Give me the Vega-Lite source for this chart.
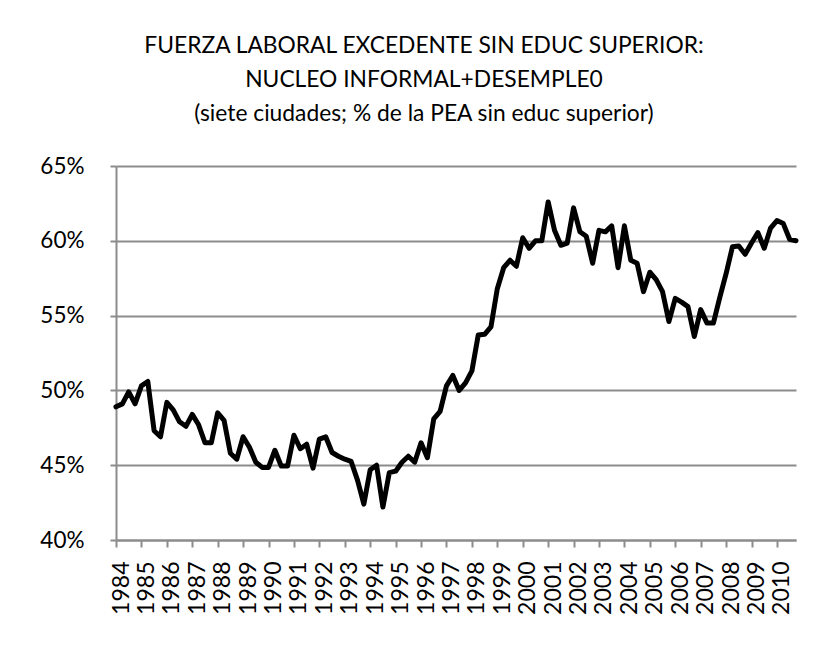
{
  "$schema": "https://vega.github.io/schema/vega-lite/v6.json",
  "width": 680,
  "height": 374,
  "autosize": {"type": "none"},
  "padding": {"left": 116, "top": 166, "right": 31, "bottom": 117},
  "background": "white",
  "title": {
    "text": ["FUERZA LABORAL EXCEDENTE  SIN EDUC SUPERIOR:", "NUCLEO INFORMAL+DESEMPLE0", "(siete ciudades; % de la PEA sin educ superior)"],
    "font": "Lato",
    "fontSize": 22.8,
    "fontWeight": "normal",
    "color": "black",
    "lineHeight": 34,
    "anchor": "middle",
    "dx": -32,
    "offset": 29
  },
  "data": {
    "values": [
      {"t": 1984.0, "v": 0.489}, {"t": 1984.25, "v": 0.491}, {"t": 1984.5, "v": 0.499}, {"t": 1984.75, "v": 0.491},
      {"t": 1985.0, "v": 0.503}, {"t": 1985.25, "v": 0.506}, {"t": 1985.5, "v": 0.473}, {"t": 1985.75, "v": 0.469},
      {"t": 1986.0, "v": 0.492}, {"t": 1986.25, "v": 0.487}, {"t": 1986.5, "v": 0.479}, {"t": 1986.75, "v": 0.476},
      {"t": 1987.0, "v": 0.484}, {"t": 1987.25, "v": 0.477}, {"t": 1987.5, "v": 0.465}, {"t": 1987.75, "v": 0.465},
      {"t": 1988.0, "v": 0.485}, {"t": 1988.25, "v": 0.480}, {"t": 1988.5, "v": 0.458}, {"t": 1988.75, "v": 0.454},
      {"t": 1989.0, "v": 0.469}, {"t": 1989.25, "v": 0.462}, {"t": 1989.5, "v": 0.452}, {"t": 1989.75, "v": 0.4485},
      {"t": 1990.0, "v": 0.4485}, {"t": 1990.25, "v": 0.460}, {"t": 1990.5, "v": 0.4495}, {"t": 1990.75, "v": 0.4495},
      {"t": 1991.0, "v": 0.470}, {"t": 1991.25, "v": 0.461}, {"t": 1991.5, "v": 0.464}, {"t": 1991.75, "v": 0.448},
      {"t": 1992.0, "v": 0.4675}, {"t": 1992.25, "v": 0.469}, {"t": 1992.5, "v": 0.4585}, {"t": 1992.75, "v": 0.456},
      {"t": 1993.0, "v": 0.454}, {"t": 1993.25, "v": 0.4525}, {"t": 1993.5, "v": 0.440}, {"t": 1993.75, "v": 0.424},
      {"t": 1994.0, "v": 0.447}, {"t": 1994.25, "v": 0.450}, {"t": 1994.5, "v": 0.422}, {"t": 1994.75, "v": 0.445},
      {"t": 1995.0, "v": 0.446}, {"t": 1995.25, "v": 0.452}, {"t": 1995.5, "v": 0.456}, {"t": 1995.75, "v": 0.452},
      {"t": 1996.0, "v": 0.465}, {"t": 1996.25, "v": 0.455}, {"t": 1996.5, "v": 0.481}, {"t": 1996.75, "v": 0.486},
      {"t": 1997.0, "v": 0.503}, {"t": 1997.25, "v": 0.510}, {"t": 1997.5, "v": 0.500}, {"t": 1997.75, "v": 0.505},
      {"t": 1998.0, "v": 0.513}, {"t": 1998.25, "v": 0.537}, {"t": 1998.5, "v": 0.5375}, {"t": 1998.75, "v": 0.5425},
      {"t": 1999.0, "v": 0.568}, {"t": 1999.25, "v": 0.582}, {"t": 1999.5, "v": 0.587}, {"t": 1999.75, "v": 0.583},
      {"t": 2000.0, "v": 0.602}, {"t": 2000.25, "v": 0.595}, {"t": 2000.5, "v": 0.600}, {"t": 2000.75, "v": 0.600},
      {"t": 2001.0, "v": 0.626}, {"t": 2001.25, "v": 0.607}, {"t": 2001.5, "v": 0.597}, {"t": 2001.75, "v": 0.5985},
      {"t": 2002.0, "v": 0.622}, {"t": 2002.25, "v": 0.606}, {"t": 2002.5, "v": 0.603}, {"t": 2002.75, "v": 0.585},
      {"t": 2003.0, "v": 0.607}, {"t": 2003.25, "v": 0.606}, {"t": 2003.5, "v": 0.610}, {"t": 2003.75, "v": 0.582},
      {"t": 2004.0, "v": 0.610}, {"t": 2004.25, "v": 0.587}, {"t": 2004.5, "v": 0.585}, {"t": 2004.75, "v": 0.566},
      {"t": 2005.0, "v": 0.579}, {"t": 2005.25, "v": 0.574}, {"t": 2005.5, "v": 0.566}, {"t": 2005.75, "v": 0.546},
      {"t": 2006.0, "v": 0.5615}, {"t": 2006.25, "v": 0.559}, {"t": 2006.5, "v": 0.556}, {"t": 2006.75, "v": 0.536},
      {"t": 2007.0, "v": 0.554}, {"t": 2007.25, "v": 0.545}, {"t": 2007.5, "v": 0.545}, {"t": 2007.75, "v": 0.562},
      {"t": 2008.0, "v": 0.578}, {"t": 2008.25, "v": 0.596}, {"t": 2008.5, "v": 0.5965}, {"t": 2008.75, "v": 0.591},
      {"t": 2009.0, "v": 0.5985}, {"t": 2009.25, "v": 0.6055}, {"t": 2009.5, "v": 0.595}, {"t": 2009.75, "v": 0.6085},
      {"t": 2010.0, "v": 0.6135}, {"t": 2010.25, "v": 0.6115}, {"t": 2010.5, "v": 0.601}, {"t": 2010.75, "v": 0.600}
    ]
  },
  "mark": {"type": "line", "color": "black", "strokeWidth": 5, "strokeJoin": "round", "strokeCap": "round"},
  "encoding": {
    "x": {
      "field": "t",
      "type": "quantitative",
      "scale": {"domain": [1984, 2010.75], "nice": false, "zero": false},
      "axis": {
        "values": [1984, 1985, 1986, 1987, 1988, 1989, 1990, 1991, 1992, 1993, 1994, 1995, 1996, 1997, 1998, 1999, 2000, 2001, 2002, 2003, 2004, 2005, 2006, 2007, 2008, 2009, 2010],
        "format": "d",
        "labelAngle": 270,
        "labelOffset": 5,
        "labelPadding": 14,
        "labelFont": "Lato",
        "labelFontSize": 23,
        "labelColor": "black",
        "labelOverlap": false,
        "labelFlush": false,
        "title": null,
        "grid": false,
        "domainColor": "#8c8c8c",
        "domainWidth": 2,
        "tickColor": "#8c8c8c",
        "tickWidth": 2,
        "tickSize": 7
      }
    },
    "y": {
      "field": "v",
      "type": "quantitative",
      "scale": {"domain": [0.4, 0.65], "nice": false, "zero": false},
      "axis": {
        "values": [0.4, 0.45, 0.5, 0.55, 0.6, 0.65],
        "format": ".0%",
        "labelFont": "Lato",
        "labelFontSize": 22.5,
        "labelColor": "black",
        "labelPadding": 26,
        "labelOverlap": false,
        "labelFlush": false,
        "title": null,
        "grid": true,
        "gridColor": "#8c8c8c",
        "gridWidth": 2,
        "domainColor": "#8c8c8c",
        "domainWidth": 2,
        "tickColor": "#8c8c8c",
        "tickWidth": 2,
        "tickSize": 6
      }
    }
  },
  "config": {"view": {"stroke": null}}
}
